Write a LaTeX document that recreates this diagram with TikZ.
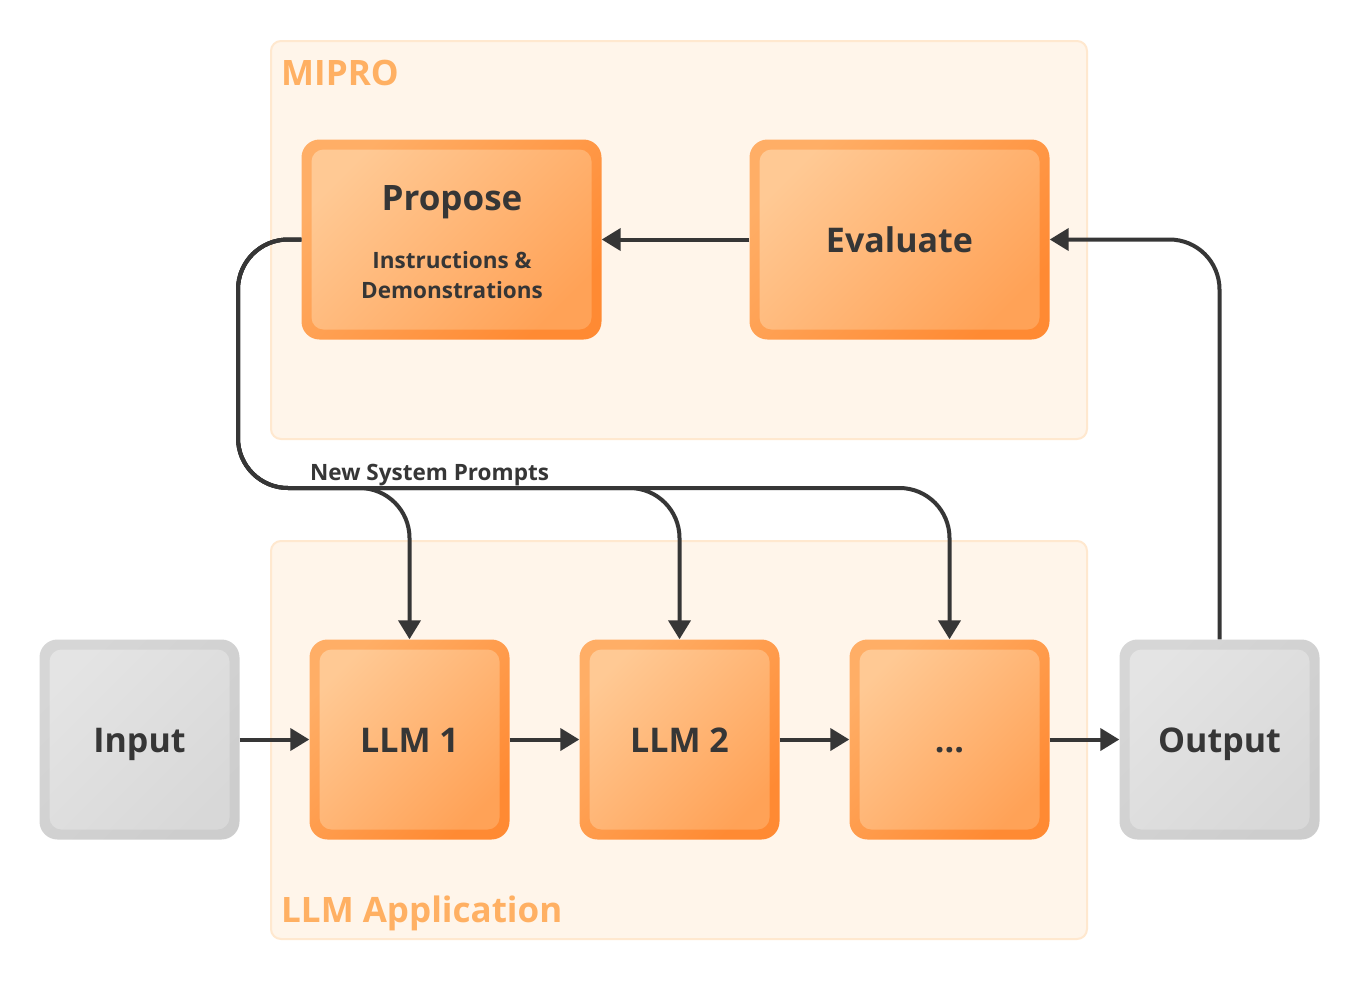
\documentclass[tikz,border=0pt]{standalone}
\usepackage{fontspec}
\setmainfont{Open Sans}
\usetikzlibrary{arrows.meta}
\definecolor{ink}{HTML}{363636}
\definecolor{grpfill}{HTML}{FFF5EA}
\definecolor{grpline}{HTML}{FFE8CF}
\definecolor{grptext}{HTML}{FFB063}
\definecolor{orA}{HTML}{FFAE66}
\definecolor{orB}{HTML}{FF8A33}
\definecolor{orC}{HTML}{FFC994}
\definecolor{orD}{HTML}{FFA257}
\definecolor{grA}{HTML}{D6D6D6}
\definecolor{grB}{HTML}{CDCDCD}
\definecolor{grC}{HTML}{E4E4E4}
\definecolor{grD}{HTML}{D8D8D8}
\begin{document}
\begin{tikzpicture}[x=1pt,y=-1pt,
  grp/.style={fill=grpfill, draw=grpline, line width=2pt, rounded corners=10pt, inner sep=0pt},
  grplabel/.style={text=grptext, font=\fontsize{35}{40}\selectfont\bfseries, anchor=base west, inner sep=0pt},
  boxbase/.style={minimum width=200pt, minimum height=200pt, inner sep=0pt, rounded corners=18pt,
    text=ink, font=\fontsize{34}{40}\selectfont\bfseries, text height=25pt, text depth=0pt},
  obox/.style={boxbase, top color=orA, bottom color=orB, shading angle=45,
    path picture={\shade[rounded corners=12pt, top color=orC, bottom color=orD, shading angle=45]
      ([shift={(10pt,10pt)}]path picture bounding box.south west) rectangle
      ([shift={(-10pt,-10pt)}]path picture bounding box.north east);}},
  gbox/.style={boxbase, top color=grA, bottom color=grB, shading angle=45,
    path picture={\shade[rounded corners=12pt, top color=grC, bottom color=grD, shading angle=45]
      ([shift={(10pt,10pt)}]path picture bounding box.south west) rectangle
      ([shift={(-10pt,-10pt)}]path picture bounding box.north east);}},
  txt/.style={text=ink, inner sep=0pt},
  arr/.style={draw=ink, line width=4pt, -{Triangle[length=19pt,width=22pt]}},
]
\useasboundingbox[fill=white] (0,0) rectangle (1360,980);

% groups
\node[grp, minimum width=816pt, minimum height=398pt] (mipro) at (679,240) {};
\node[grp, minimum width=816pt, minimum height=398pt] (app) at (679,740) {};
\node[grplabel] (miprolabel) at (281,85) {MIPRO};
\node[grplabel] (applabel) at (281,922) {LLM Application};

% boxes
\node[obox, minimum width=300pt] (prop) at (451.5,239.5) {};
\node[txt, font=\fontsize{35}{40}\selectfont\bfseries, anchor=base] (proptitle) at (452,210) {Propose};
\node[txt, font=\fontsize{22.5}{30}\selectfont\bfseries, anchor=base] (propsub1) at (452,268) {Instructions \&};
\node[txt, font=\fontsize{22.5}{30}\selectfont\bfseries, anchor=base] (propsub2) at (452,298) {Demonstrations};
\node[obox, minimum width=300pt] (eval) at (899.5,239.5) {Evaluate};

\node[gbox] (in) at (139.5,739.5) {Input};
\node[obox] (l1) at (409.5,739.5) {LLM 1};
\node[obox] (l2) at (679.5,739.5) {LLM 2};
\node[obox] (l3) at (949.5,739.5) {...};
\node[gbox] (out) at (1219.5,739.5) {Output};

% connectors
\draw[arr] (in.east) -- (l1.west);
\draw[arr] (l1.east) -- (l2.west);
\draw[arr] (l2.east) -- (l3.west);
\draw[arr] (l3.east) -- (out.west);
\draw[arr] (eval.west) -- (prop.east);
\draw[arr, rounded corners=50pt] (out.north) |- (eval.east);

\coordinate (bus) at (238,488);
\draw[arr, rounded corners=50pt] (prop.west) -| (bus) -| (l1.north);
\draw[arr, rounded corners=50pt] (prop.west) -| (bus) -| (l2.north);
\draw[arr, rounded corners=50pt] (prop.west) -| (bus) -| (l3.north);

\node[txt, font=\fontsize{22.5}{26}\selectfont\bfseries, anchor=base west] (nsp) at (310,480) {New System Prompts};
\end{tikzpicture}
\end{document}
